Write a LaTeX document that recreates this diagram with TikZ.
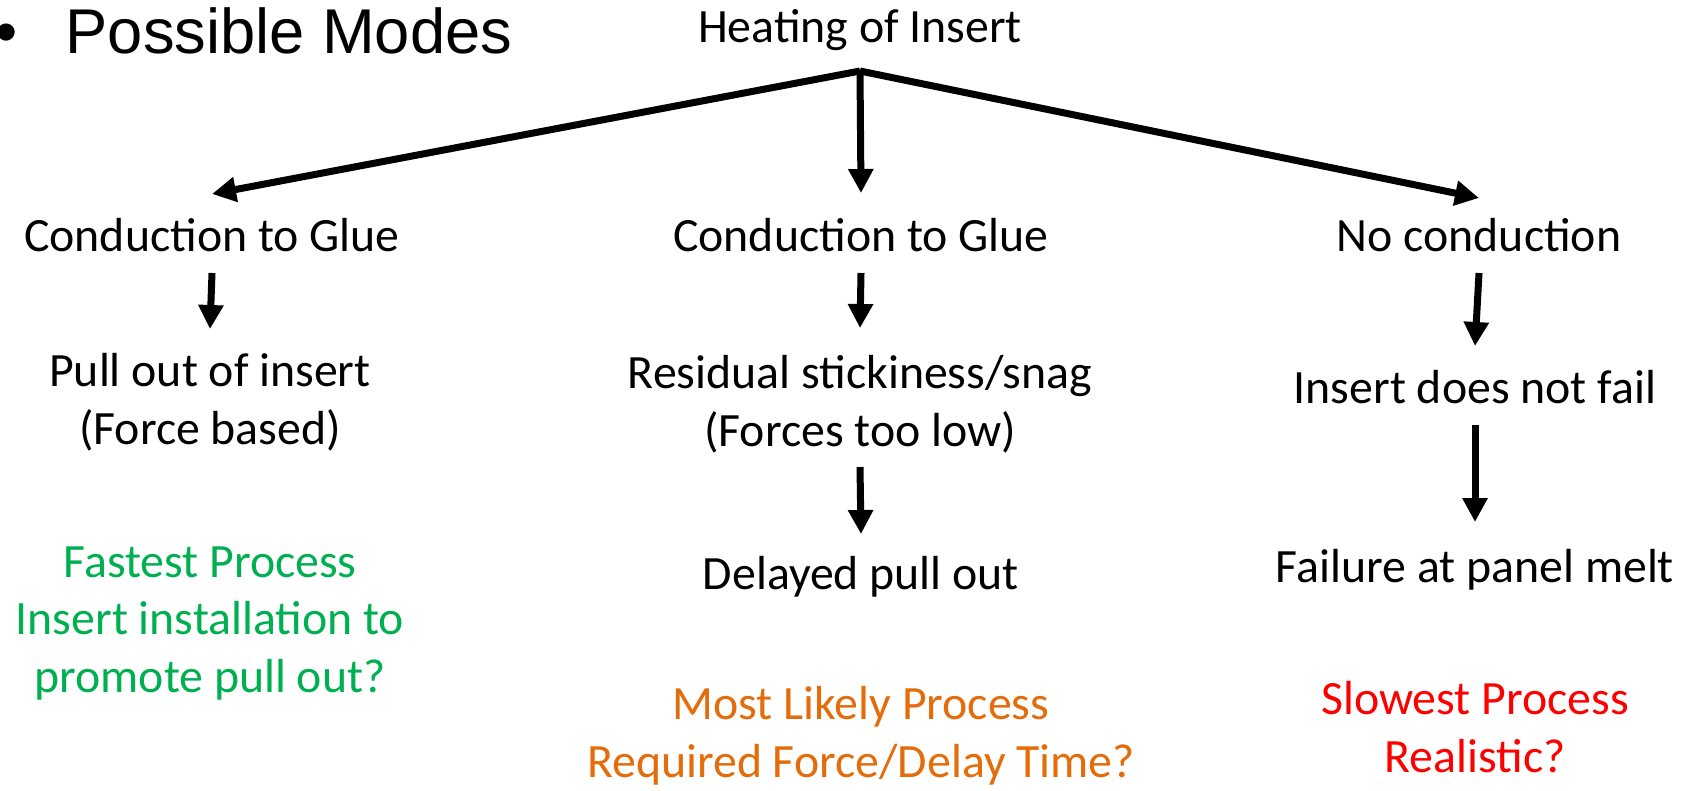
\documentclass[tikz,border=0pt]{standalone}
\usepackage{fontspec}
\setmainfont{Carlito}
\newfontfamily\arialfont{Liberation Sans}
\usepackage{xcolor}
\usepackage{tikz}
\usetikzlibrary{arrows.meta}

\definecolor{fastgreen}{HTML}{00B050}
\definecolor{likelyorange}{HTML}{E46C0A}
\definecolor{slowred}{HTML}{FF0000}

\begin{document}
\begin{tikzpicture}[x=0.1mm, y=-0.1mm,
    txt/.style={inner sep=0pt, anchor=base, align=center, font=\fontsize{13.6}{16.3}\selectfont},
    title/.style={inner sep=0pt, font=\arialfont\fontsize{18}{21}\selectfont},
    arr/.style={line width=0.7mm, -{Triangle[length=2.4mm, width=2.4mm]}}]
  \useasboundingbox (0,0) rectangle (1696,790);

  % Slide heading
  \node[title, anchor=base] (bullet) at (7,53) {•};
  \node[title, anchor=base west] (modes) at (65,53) {Possible Modes};

  % Root and the three branches
  \node[txt] (heat) at (860,42) {Heating of Insert};
  \coordinate (fork) at ([yshift=-2.9mm]heat.base);

  \node[txt] (glueL) at (212,251) {Conduction to Glue};
  \node[txt] (glueM) at (861,251) {Conduction to Glue};
  \node[txt] (nocond) at (1479,251) {No conduction};

  \draw[arr] (fork) -- ([yshift=5.7mm]glueL.base);
  \draw[arr] (fork) -- ([yshift=5.8mm]glueM.base);
  \draw[arr] (fork) -- ([yshift=5.3mm]nocond.base);

  % Left branch (multi-line nodes sit on their last line)
  \node[txt] (pull) at (210,444) {Pull out of insert\\(Force based)};
  \node[txt, text=fastgreen] (fast) at (210,692) {Fastest Process\\Insert installation to\\promote pull out?};
  \draw[arr] ([yshift=-2.2mm]glueL.base) -- ([yshift=11.5mm]pull.base);

  % Middle branch
  \node[txt] (resid) at (860,446) {Residual stickiness/snag\\(Forces too low)};
  \node[txt] (delay) at (861,589) {Delayed pull out};
  \node[txt, text=likelyorange] (likely) at (861,777) {Most Likely Process\\Required Force/Delay Time?};
  \draw[arr] ([yshift=-2.2mm]glueM.base) -- ([yshift=11.8mm]resid.base);
  \draw[arr] ([yshift=-2.1mm]resid.base) -- ([yshift=5.5mm]delay.base);

  % Right branch
  \node[txt] (nofail) at (1475,403) {Insert does not fail};
  \node[txt] (melt) at (1475,582) {Failure at panel melt};
  \node[txt, text=slowred] (slow) at (1475,772) {Slowest Process\\Realistic?};
  \draw[arr] ([yshift=-2.2mm]nocond.base) -- ([yshift=5.7mm]nofail.base);
  \draw[arr] ([yshift=-2.2mm]nofail.base) -- ([yshift=6.0mm]melt.base);
\end{tikzpicture}
\end{document}
